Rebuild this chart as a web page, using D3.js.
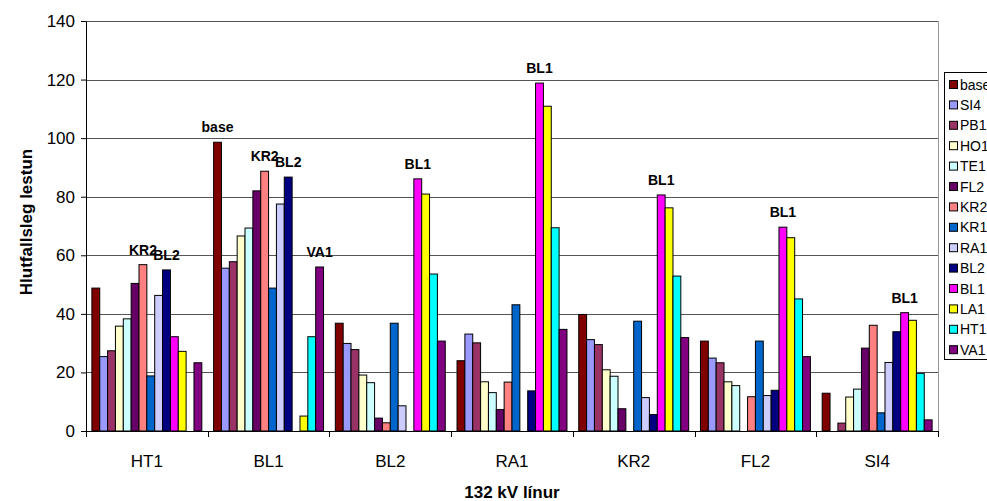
<!DOCTYPE html>
<html>
<head>
<meta charset="UTF-8">
<script src="https://cdn.jsdelivr.net/npm/d3@7"></script>
<style>
  body { margin: 0; background: #fff; }
  text { font-family: "Liberation Sans", Arial, sans-serif; }
</style>
</head>
<body>
<svg width="987" height="501"></svg>
<script>
// line groups on the x axis
let categories = ["HT1", "BL1", "BL2", "RA1", "KR2", "FL2", "SI4"];
// outage cases (series), legend order
let series = ["base", "SI4", "PB1", "HO1", "TE1", "FL2", "KR2", "KR1", "RA1", "BL2", "BL1", "LA1", "HT1", "VA1"];
let colors = ["#800000", "#9999FF", "#993366", "#FFFFCC", "#CCFFFF", "#660066", "#FF8080",
              "#0066CC", "#CCCCFF", "#000080", "#FF00FF", "#FFFF00", "#00FFFF", "#800080"];

// values per series, one entry per category (null = no bar)
let base = [48.8, 98.6, 36.8, 24.0, 39.8, 30.7, 12.9];
let SI4  = [25.4, 55.6, 29.9, 33.1, 31.2, 24.9, null];
let PB1  = [27.4, 57.8, 27.8, 30.1, 29.5, 23.3, 2.7];
let HO1  = [35.8, 66.6, 19.1, 16.8, 20.9, 16.8, 11.6];
let TE1  = [38.3, 69.3, 16.5, 13.1, 18.7, 15.5, 14.3];
let FL2  = [50.4, 82.0, 4.4, 7.3, 7.6, null, 28.3];
let KR2  = [56.8, 88.7, 2.8, 16.7, null, 11.7, 36.1];
let KR1  = [18.8, 48.8, 36.8, 43.1, 37.5, 30.7, 6.2];
let RA1  = [46.3, 77.5, 8.6, null, 11.4, 12.1, 23.4];
let BL2  = [55.0, 86.7, null, 13.7, 5.6, 13.9, 33.9];
let BL1  = [32.2, null, 86.1, 118.8, 80.6, 69.6, 40.4];
let LA1  = [27.2, 5.1, 80.9, 110.9, 76.2, 66.0, 37.8];
let HT1  = [null, 32.2, 53.6, 69.4, 52.9, 45.1, 19.7];
let VA1  = [23.3, 56.0, 30.7, 34.7, 31.9, 25.4, 3.8];
let values = [base, SI4, PB1, HO1, TE1, FL2, KR2, KR1, RA1, BL2, BL1, LA1, HT1, VA1];

// bar labels shown above bars: [category, series]
let barLabels = [["HT1", "KR2"], ["HT1", "BL2"], ["BL1", "base"], ["BL1", "KR2"], ["BL1", "BL2"], ["BL1", "VA1"],
                 ["BL2", "BL1"], ["RA1", "BL1"], ["KR2", "BL1"], ["FL2", "BL1"], ["SI4", "BL1"]];

let yTicks = [0, 20, 40, 60, 80, 100, 120, 140];

let svg = d3.select("svg");
let plotL = 86, plotR = 938, plotT = 21, plotB = 431;

let x0 = d3.scaleBand().domain(categories).range([plotL, plotR]);
let x1 = d3.scaleBand().domain(series).range([0, x0.bandwidth()]).paddingOuter(0.75);
let y = d3.scaleLinear().domain([0, 140]).range([plotB, plotT]);
let color = d3.scaleOrdinal().domain(series).range(colors);

// gridlines
svg.append("g")
  .selectAll("line")
  .data(yTicks.slice(1))
  .enter().append("line")
  .attr("x1", plotL).attr("x2", plotR)
  .attr("y1", d => Math.round(y(d)) + 0.5).attr("y2", d => Math.round(y(d)) + 0.5)
  .attr("stroke", "#555").attr("stroke-width", 1);

// right border of plot area
svg.append("line")
  .attr("x1", plotR + 0.5).attr("x2", plotR + 0.5).attr("y1", plotT).attr("y2", plotB)
  .attr("stroke", "#999");

// bars
let rows = [];
categories.forEach((c, i) => {
  series.forEach((s, j) => {
    let v = values[j][i];
    if (v != null) rows.push({ cat: c, ser: s, v: v });
  });
});

svg.append("g")
  .selectAll("rect")
  .data(rows)
  .enter().append("rect")
  .attr("x", d => x0(d.cat) + x1(d.ser))
  .attr("y", d => y(d.v))
  .attr("width", x1.bandwidth())
  .attr("height", d => y(0) - y(d.v))
  .attr("fill", d => color(d.ser))
  .attr("stroke", "#000")
  .attr("stroke-width", 1);

// labels above bars
svg.append("g")
  .selectAll("text")
  .data(barLabels)
  .enter().append("text")
  .attr("x", d => x0(d[0]) + x1(d[1]) + x1.bandwidth() / 2)
  .attr("y", d => y(values[series.indexOf(d[1])][categories.indexOf(d[0])]) - 10)
  .attr("text-anchor", "middle")
  .attr("font-size", "14px")
  .attr("font-weight", "bold")
  .text(d => d[1]);

// y axis
let yAxis = svg.append("g")
  .attr("transform", "translate(" + plotL + ",0)")
  .call(d3.axisLeft(y).tickValues(yTicks).tickSize(5).tickPadding(6).tickSizeOuter(0));
yAxis.select(".domain").attr("stroke", "#000");
yAxis.selectAll("text").attr("font-size", "17px").attr("fill", "#000")
  .style("font-family", "'Liberation Sans', Arial, sans-serif");

// x axis
let xAxis = svg.append("g")
  .attr("transform", "translate(0," + plotB + ")")
  .call(d3.axisBottom(x0).tickSize(0).tickPadding(24).tickSizeOuter(0));
xAxis.select(".domain").attr("stroke", "#000");
xAxis.selectAll("text").attr("font-size", "17px").attr("fill", "#000")
  .style("font-family", "'Liberation Sans', Arial, sans-serif");

// category separator ticks
svg.append("g")
  .selectAll("line")
  .data(categories.map(c => x0(c)).concat([plotR]))
  .enter().append("line")
  .attr("x1", d => Math.round(d) + 0.5).attr("x2", d => Math.round(d) + 0.5)
  .attr("y1", plotB).attr("y2", plotB + 6)
  .attr("stroke", "#000");

// axis titles
svg.append("text")
  .attr("x", (plotL + plotR) / 2).attr("y", 498)
  .attr("text-anchor", "middle")
  .attr("font-size", "17px").attr("font-weight", "bold")
  .text("132 kV línur");

svg.append("text")
  .attr("transform", "translate(32,222) rotate(-90)")
  .attr("text-anchor", "middle")
  .attr("font-size", "17px").attr("font-weight", "bold")
  .text("Hlutfallsleg lestun");

// legend
let legend = svg.append("g").attr("transform", "translate(944,72)");
legend.append("rect")
  .attr("x", 0.5).attr("y", 0.5).attr("width", 60).attr("height", 287)
  .attr("fill", "#fff").attr("stroke", "#000");

let item = legend.selectAll("g.item")
  .data(series)
  .enter().append("g")
  .attr("class", "item")
  .attr("transform", (d, i) => "translate(0," + (12 + i * 20.4) + ")");
item.append("rect")
  .attr("x", 5.5).attr("y", -3.5).attr("width", 8).attr("height", 8)
  .attr("fill", d => color(d)).attr("stroke", "#000");
item.append("text")
  .attr("x", 16).attr("y", 5.5)
  .attr("font-size", "14px")
  .text(d => d);
</script>
</body>
</html>
